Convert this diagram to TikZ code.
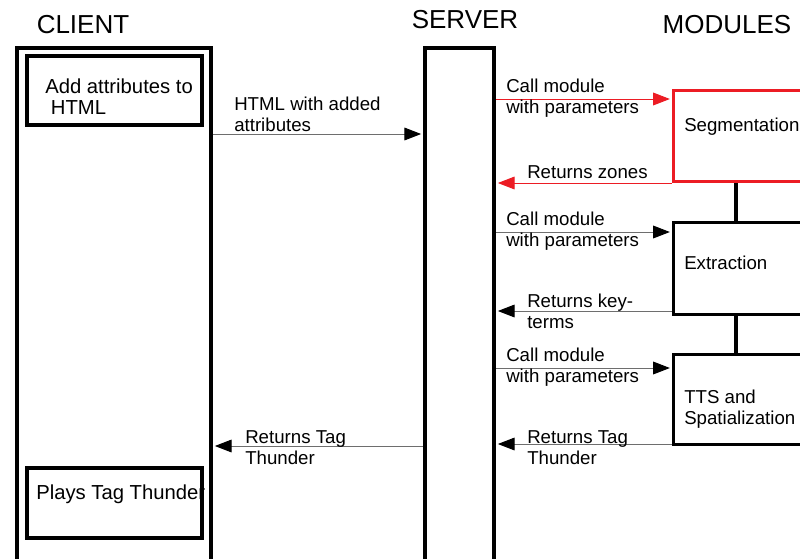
\documentclass[tikz,border=0pt]{standalone}
\usepackage{fontspec}
\setmainfont{Liberation Sans}
\usetikzlibrary{arrows.meta}
\definecolor{segred}{RGB}{236,28,36}
\definecolor{msggray}{RGB}{110,110,110}

\begin{document}
\begin{tikzpicture}[x=0.75pt, y=-0.75pt]
\tikzset{lifeline/.style={draw, line width=3pt, minimum width=#1, minimum height=429pt, inner sep=0pt},
  modbox/.style={draw, line width=2.6pt, minimum width=169.9pt, minimum height=#1, inner sep=0pt},
  actbox/.style={draw, line width=3pt, minimum width=131.25pt, minimum height=#1, inner sep=0pt},
  txt/.style={anchor=west, inner sep=0pt, align=left, font=\fontsize{14}{15.75}\selectfont},
  acttxt/.style={txt, font=\fontsize{15.2}{15.75}\selectfont},
  titre/.style={inner sep=0pt, font=\fontsize{19.5}{22}\selectfont},
  msg/.style={draw=msggray, line width=0.75pt, -{Triangle[length=12.5pt, width=9.5pt, black]}, shorten >=1.4pt},
  redmsg/.style={msg, draw=segred, -{Triangle[length=12.5pt, width=9.5pt, segred]}}}
\useasboundingbox (0,0) rectangle (800,558);
\clip (0,0) rectangle (800,558);
\node[titre] (tclient) at (83,25) {CLIENT};
\node[titre] (tserver) at (465,20) {SERVER};
\node[titre] (tmodules) at (727,25) {MODULES};
\node[lifeline=145.5pt] (client) at (114,334) {};
\node[lifeline=51.75pt] (server) at (459.5,334) {};
\node[actbox=51.75pt] (addattr) at (114.5,90.5) {};
\node[acttxt] (taddattr) at (45,96.5) {Add attributes to\\~HTML};
\node[actbox=52.5pt] (plays) at (114.5,503) {};
\node[acttxt] (tplays) at (36,494) {Plays Tag Thunder};
\node[modbox=68.25pt, draw=segred] (seg) at (786.75,136) {};
\node[txt] (tseg) at (684,127) {Segmentation};
\node[modbox=69pt] (extr) at (786.75,268.5) {};
\node[txt] (textr) at (684,263) {Extraction};
\node[modbox=67.5pt] (tts) at (786.75,399.5) {};
\node[txt] (ttts) at (684,409) {TTS and\\Spatialization};
\draw[line width=2.6pt] (seg.south -| 736,0) -- (extr.north -| 736,0);
\draw[line width=2.6pt] (extr.south -| 736,0) -- (tts.north -| 736,0);
\draw[msg] (client.east |- 0,134) -- (server.west |- 0,134);
\node[txt] (lhtml) at (234,114.5) {HTML with added\\attributes};
\draw[redmsg] (server.east |- 0,99) -- (seg.west |- 0,99);
\node[txt] (lcall1) at (506,98.5) {Call module\\with parameters};
\draw[redmsg] (seg.west |- 0,183) -- (server.east |- 0,183);
\node[txt] (lzones) at (527,172) {Returns zones};
\draw[msg] (server.east |- 0,232) -- (extr.west |- 0,232);
\node[txt] (lcall2) at (506,231.5) {Call module\\with parameters};
\draw[msg] (extr.west |- 0,311) -- (server.east |- 0,311);
\node[txt] (lkey) at (527,311.5) {Returns key-\\terms};
\draw[msg] (server.east |- 0,368) -- (tts.west |- 0,368);
\node[txt] (lcall3) at (506,367.5) {Call module\\with parameters};
\draw[msg] (tts.west |- 0,444) -- (server.east |- 0,444);
\node[txt] (lret1) at (527,447.5) {Returns Tag\\Thunder};
\draw[msg] (server.west |- 0,446) -- (client.east |- 0,446);
\node[txt] (lret2) at (245,447.5) {Returns Tag\\Thunder};
\end{tikzpicture}
\end{document}
